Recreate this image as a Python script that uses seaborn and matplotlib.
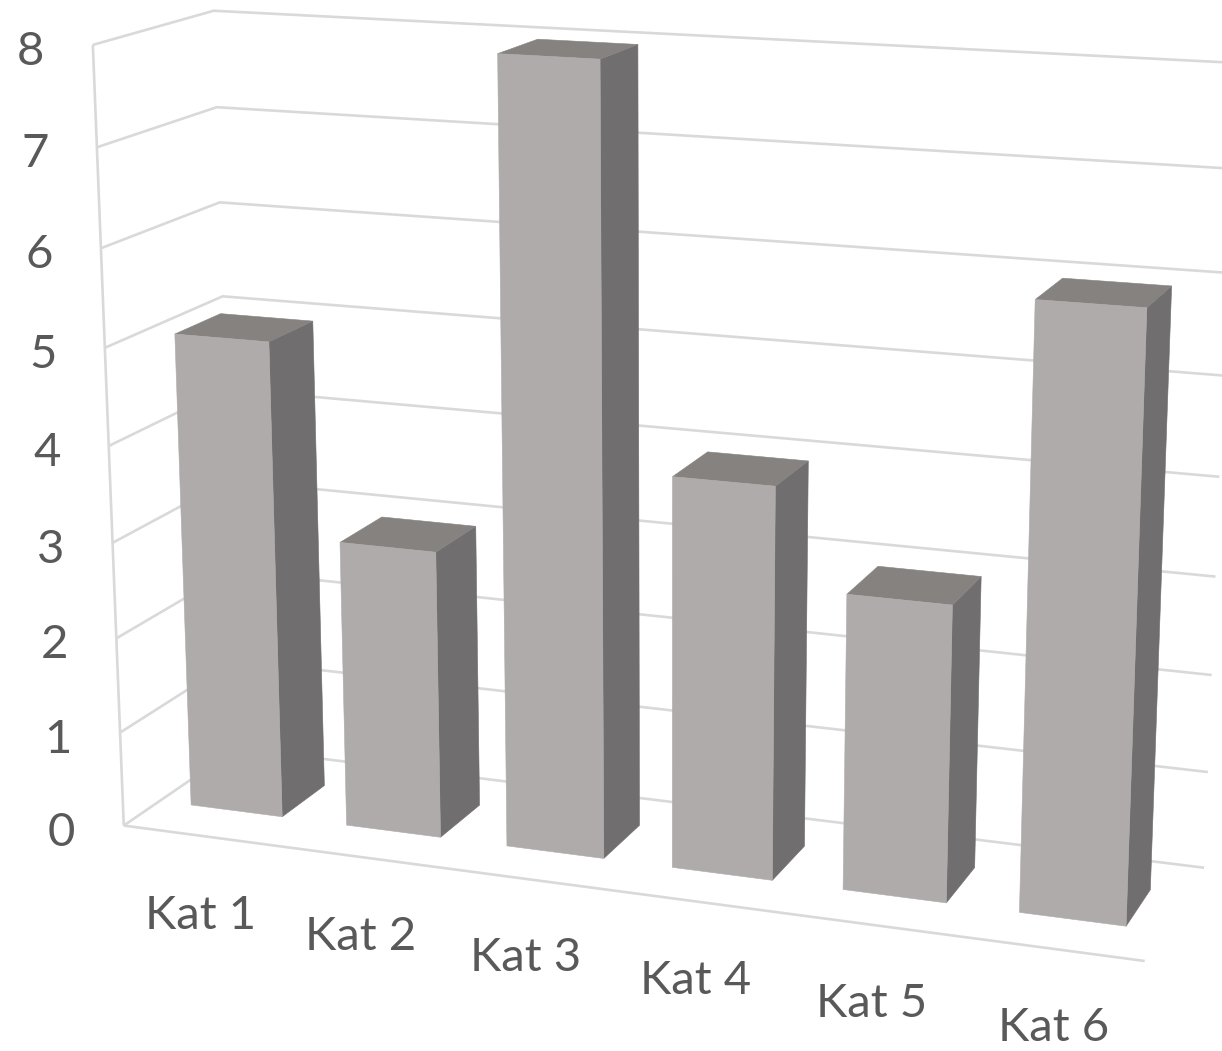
import numpy as np
import pandas as pd
import matplotlib
matplotlib.use("Agg")
import matplotlib.pyplot as plt
from matplotlib.transforms import Transform, IdentityTransform
import seaborn as sns

categories = ["Kat 1", "Kat 2", "Kat 3", "Kat 4", "Kat 5", "Kat 6"]
values = [5, 3, 8, 4, 3, 6]
value_ticks = [0, 1, 2, 3, 4, 5, 6, 7, 8]

FIG_W, FIG_H = 1222, 1051
FRONT, SIDE, TOP = "#AFABAA", "#706E6E", "#868280"
GRID, TEXT = "#D9D9D9", "#595959"

# Camera matrix: (category, value, depth) -> homogeneous canvas pixels
CAMERA = np.array([
    [153.7363, -4.520964, 128.4121, 201.5784],
    [7.848153, -98.64519, -31.91383, 835.8937],
    [-0.0154993, -0.006768257, 0.06153344, 1.0],
])
BAR_WIDTH = 0.5894
BAR_DEPTH = (0.3065, 0.7007)
X_RANGE = (-0.5, 5.5)


def project(x, y, z):
    """Canvas position of a point in chart space, with y measured upward."""
    q = CAMERA @ np.array([x, y, z, 1.0])
    return q[0] / q[2], FIG_H - q[1] / q[2]


class DepthPlane(Transform):
    """Maps (category, value) data on a plane of constant depth to the canvas."""
    input_dims = output_dims = 2
    is_separable = False
    has_inverse = False

    def __init__(self, plane_depth):
        super().__init__()
        self.plane_depth = plane_depth

    def transform_non_affine(self, xy):
        xy = np.asarray(xy, float)
        pts = np.column_stack([xy[:, 0], xy[:, 1], np.full(len(xy), self.plane_depth), np.ones(len(xy))])
        q = pts @ CAMERA.T
        return np.column_stack([q[:, 0] / q[:, 2], FIG_H - q[:, 1] / q[:, 2]])


sns.set_theme(style="white")
plt.rcParams["font.family"] = ["Lato", "DejaVu Sans"]

fig = plt.figure(figsize=(FIG_W / 100, FIG_H / 100), dpi=100, facecolor="white")
ax = fig.add_axes([0, 0, 1, 1])

frame = pd.DataFrame({"category": categories, "value": values})
sns.barplot(data=frame, x="category", y="value", color=FRONT, saturation=1,
            width=BAR_WIDTH, ax=ax, zorder=4)
ax.set_axis_off()

canvas = IdentityTransform()


def polyline(points, **kw):
    xs, ys = zip(*points)
    ax.plot(xs, ys, transform=canvas, color=GRID, lw=1.9, clip_on=False, zorder=1,
            solid_joinstyle="miter", solid_capstyle="butt", **kw)


# Wall and floor lines
x0, x1 = X_RANGE
for v in value_ticks:
    polyline([project(x0, v, 0), project(x0, v, 1), project(x1, v, 1)])
polyline([project(x0, 0, 0), project(x0, value_ticks[-1], 0)])
polyline([project(x0, 0, 0), project(x1, 0, 0)])

# Front faces come from the bar patches; side and top faces are added behind them
z0, z1 = BAR_DEPTH
plane = DepthPlane(z0)
for i, patch in enumerate(ax.containers[0]):
    patch.set_transform(plane)
    patch.set_clip_on(False)
    patch.set_edgecolor(FRONT)
    patch.set_linewidth(0.4)
    left, right = patch.get_x(), patch.get_x() + patch.get_width()
    v = patch.get_height()
    side = [project(right, 0, z0), project(right, 0, z1), project(right, v, z1), project(right, v, z0)]
    top = [project(left, v, z0), project(right, v, z0), project(right, v, z1), project(left, v, z1)]
    for face, colour in ((side, SIDE), (top, TOP)):
        ax.fill(*zip(*face), transform=canvas, facecolor=colour, edgecolor=colour,
                lw=0.4, clip_on=False, zorder=3)

# Tick labels follow the front edges of the wall and floor
for v in value_ticks:
    px, py = project(x0, v, 0)
    ax.text(px - 62, py - 7, str(v), transform=canvas, ha="center", va="center",
            fontsize=34, color=TEXT)
for i, name in enumerate(categories):
    px, py = project(i + 0.08, -0.75, -0.1)
    ax.text(px - 4, py + 1.6 * i, name, transform=canvas, ha="center", va="center",
            fontsize=34, color=TEXT)

fig.savefig("out.png", dpi=100, facecolor="white")
